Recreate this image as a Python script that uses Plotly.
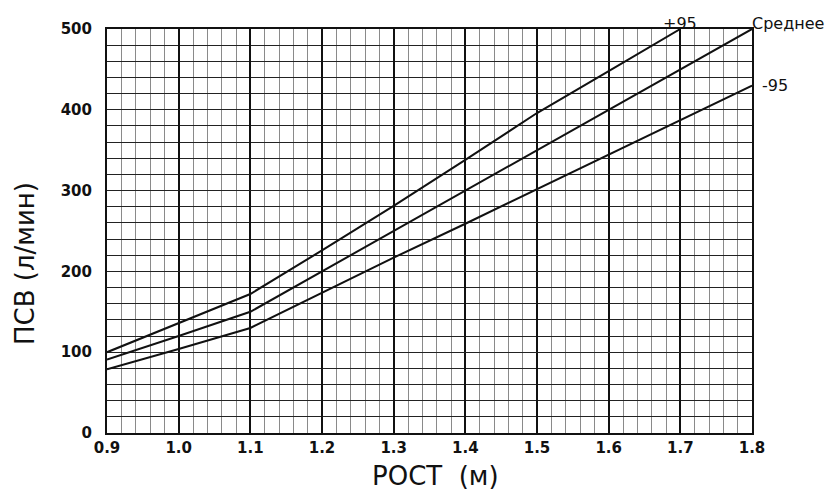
import plotly.graph_objects as go

height_m = [0.9, 1.0, 1.1, 1.2, 1.3, 1.4, 1.5, 1.6, 1.7, 1.8]
pef_upper = [100, 136, 172, 226, 281, 338, 396, 448, 500, None]
pef_mean = [91, 120, 150, 200, 250, 300, 350, 400, 450, 500]
pef_lower = [79, 104, 130, 174, 217, 259, 302, 345, 388, 430]

x_ticks = [0.9, 1.0, 1.1, 1.2, 1.3, 1.4, 1.5, 1.6, 1.7, 1.8]
x_tick_text = ["0.9", "1.0", "1.1", "1.2", "1.3", "1.4", "1.5", "1.6", "1.7", "1.8"]
y_ticks = [0, 100, 200, 300, 400, 500]

series_labels = ["+95", "Среднее", "-95"]
x_title = "РОСТ  (м)"
y_title = "ПСВ (л/мин)"

FONT = "DejaVu Sans, Verdana, sans-serif"
INK = "#111111"

fig = go.Figure()
for ys in (pef_upper, pef_mean, pef_lower):
    fig.add_trace(go.Scatter(x=height_m, y=ys, mode="lines",
                             line=dict(color=INK, width=2),
                             showlegend=False))

fig.update_layout(
    width=831, height=492,
    margin=dict(l=107, r=79, t=29, b=59),
    paper_bgcolor="white", plot_bgcolor="white",
    font=dict(family=FONT, color=INK),
    xaxis=dict(
        range=[0.9, 1.8], tickvals=x_ticks, ticktext=x_tick_text,
        showgrid=True, gridcolor=INK, gridwidth=2,
        minor=dict(dtick=0.02, showgrid=True, gridcolor="#8a8a8a", gridwidth=1.2),
        showline=True, linecolor=INK, linewidth=2, mirror=True,
        ticks="", tickfont=dict(size=15, color=INK, weight="bold"),
        zeroline=False,
    ),
    yaxis=dict(
        range=[0, 500], tickvals=y_ticks,
        showgrid=True, gridcolor="#222222", gridwidth=1.3,
        minor=dict(dtick=20, showgrid=True, gridcolor="#222222", gridwidth=1.3),
        showline=True, linecolor=INK, linewidth=2, mirror=True,
        ticks="", tickfont=dict(size=15, color=INK, weight="bold"),
        ticklabelstandoff=10,
        zeroline=False,
    ),
)

# axis titles
fig.add_annotation(x=0.509, y=-0.107, xref="paper", yref="paper", text=x_title,
                   showarrow=False, xanchor="center", yanchor="middle",
                   font=dict(size=26, color=INK))
fig.add_annotation(x=-0.126, y=0.42, xref="paper", yref="paper", text=y_title,
                   showarrow=False, xanchor="center", yanchor="middle", textangle=-90,
                   font=dict(size=26, color=INK))

# series labels
fig.add_annotation(x=1.7, y=1.0, xref="x", yref="paper", yshift=6, text=series_labels[0],
                   showarrow=False, xanchor="center", yanchor="middle",
                   font=dict(size=16, color=INK))
fig.add_annotation(x=1.056, y=1.0, xref="paper", yref="paper", yshift=6,
                   text=series_labels[1], showarrow=False,
                   xanchor="center", yanchor="middle",
                   font=dict(size=16, color=INK))
fig.add_annotation(x=1.8, y=pef_lower[-1], xref="x", yref="y", text=series_labels[2],
                   showarrow=False, xanchor="left", yanchor="middle", xshift=8,
                   font=dict(size=16, color=INK))

fig.write_html("out.html", config={"displayModeBar": False},
               post_script="document.body.style.margin='0';")
